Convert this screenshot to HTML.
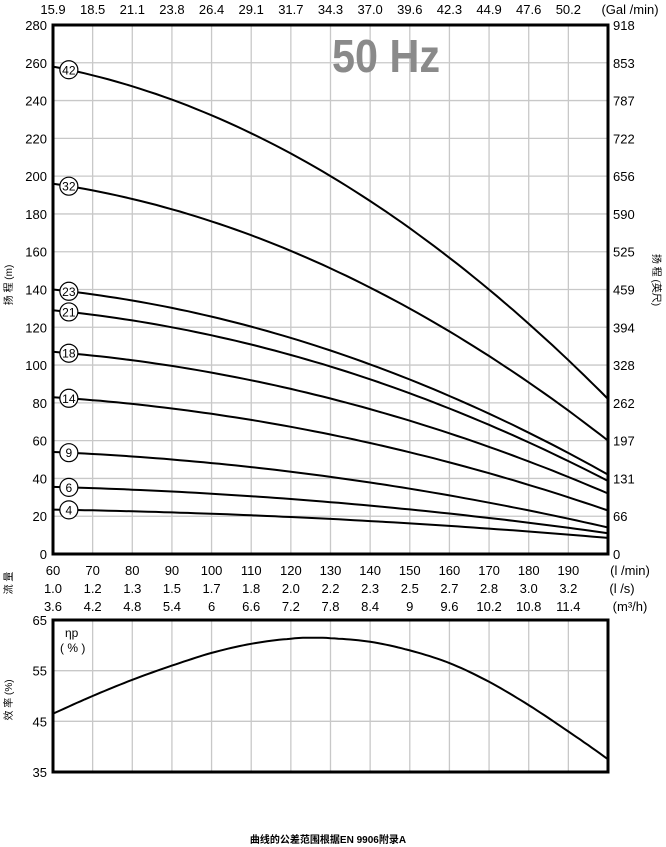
<!DOCTYPE html>
<html><head><meta charset="utf-8"><style>
body{margin:0;background:#fff;}
svg{display:block;font-family:"Liberation Sans","Noto Sans CJK SC",sans-serif;}
</style></head><body>
<svg id="s" width="666" height="847" viewBox="0 0 666 847" xmlns="http://www.w3.org/2000/svg">
<rect width="666" height="847" fill="#fff"/>
<g id="g"></g>
<text x="332" y="72" font-size="46" font-weight="bold" fill="#8a8a8a" textLength="108" lengthAdjust="spacingAndGlyphs">50 Hz</text>
<text x="328" y="843" font-size="10" font-weight="bold" text-anchor="middle">曲线的公差范围根据EN 9906附录A</text>
<text transform="translate(12,285) rotate(-90)" font-size="10" text-anchor="middle">扬 程 (m)</text>
<text transform="translate(12,583) rotate(-90)" font-size="10" text-anchor="middle">流 量</text>
<text transform="translate(12,700) rotate(-90)" font-size="10" text-anchor="middle">效 率 (%)</text>
<text transform="translate(653,280) rotate(90)" font-size="10" text-anchor="middle">扬 程 (英尺)</text>
<text x="65" y="637" font-size="12">ηp</text>
<text x="60" y="652" font-size="12">( % )</text>
</svg>
<script>
var g=document.getElementById('g'),h='';
var L=53,R=608,T=25,B=554,T2=620,B2=772;
function X(q){return L+(q-60)*(R-L)/140;}
function Y(v){return B-v*(B-T)/280;}
function Y2(v){return B2-(v-35)*(B2-T2)/30;}
for(var q=70;q<200;q+=10){h+='<line x1="'+X(q)+'" y1="'+T+'" x2="'+X(q)+'" y2="'+B+'" stroke="#c8c8c8" stroke-width="1.3"/>';
h+='<line x1="'+X(q)+'" y1="'+T2+'" x2="'+X(q)+'" y2="'+B2+'" stroke="#c8c8c8" stroke-width="1.3"/>';}
for(var v=20;v<280;v+=20)h+='<line x1="'+L+'" y1="'+Y(v)+'" x2="'+R+'" y2="'+Y(v)+'" stroke="#c8c8c8" stroke-width="1.3"/>';
[45,55].forEach(function(v){h+='<line x1="'+L+'" y1="'+Y2(v)+'" x2="'+R+'" y2="'+Y2(v)+'" stroke="#c8c8c8" stroke-width="1.3"/>';});
for(var v=0;v<=280;v+=20)h+='<text x="'+(L-6)+'" y="'+(Y(v)+5)+'" font-size="13" text-anchor="end">'+v+'</text>';
var ft=[0,66,131,197,262,328,394,459,525,590,656,722,787,853,918];
ft.forEach(function(f,i){h+='<text x="'+(R+5)+'" y="'+(Y(i*20)+5)+'" font-size="13">'+f+'</text>';});
var gal=['15.9','18.5','21.1','23.8','26.4','29.1','31.7','34.3','37.0','39.6','42.3','44.9','47.6','50.2'];
gal.forEach(function(t,i){h+='<text x="'+X(60+i*10)+'" y="14" font-size="13" text-anchor="middle">'+t+'</text>';});
h+='<text x="630" y="14" font-size="13" text-anchor="middle">(Gal /min)</text>';
var ls=['1.0','1.2','1.3','1.5','1.7','1.8','2.0','2.2','2.3','2.5','2.7','2.8','3.0','3.2'];
var m3=['3.6','4.2','4.8','5.4','6','6.6','7.2','7.8','8.4','9','9.6','10.2','10.8','11.4'];
for(var i=0;i<14;i++){var x=X(60+i*10);
h+='<text x="'+x+'" y="575" font-size="13" text-anchor="middle">'+(60+i*10)+'</text>';
h+='<text x="'+x+'" y="593" font-size="13" text-anchor="middle">'+ls[i]+'</text>';
h+='<text x="'+x+'" y="611" font-size="13" text-anchor="middle">'+m3[i]+'</text>';}
h+='<text x="630" y="575" font-size="13" text-anchor="middle">(l /min)</text>';
h+='<text x="622" y="593" font-size="13" text-anchor="middle">(l /s)</text>';
h+='<text x="630" y="611" font-size="13" text-anchor="middle">(m³/h)</text>';
[35,45,55,65].forEach(function(v){h+='<text x="'+(L-6)+'" y="'+(Y2(v)+5)+'" font-size="13" text-anchor="end">'+v+'</text>';});
var cs=[[42,258,82],[32,196,60],[23,140,42],[21,129,38.6],[18,107,32],[14,83,23],[9,54,14],[6,35.5,11],[4,23.5,8.5]];
function gf(t){return (0.4*t+0.00612*t*t)/176;}
var circ='';
cs.forEach(function(c){var p=[];for(var q=60;q<=200;q+=2){p.push(X(q).toFixed(1)+','+Y(c[1]-(c[1]-c[2])*gf(q-60)).toFixed(1));}
h+='<polyline points="'+p.join(' ')+'" fill="none" stroke="#000" stroke-width="2"/>';
var cy=Y(c[1]-(c[1]-c[2])*gf(4));
circ+='<circle cx="'+X(64)+'" cy="'+cy+'" r="9" fill="#fff" stroke="#000" stroke-width="1.2"/><text x="'+X(64)+'" y="'+(cy+4.5)+'" font-size="12" text-anchor="middle">'+c[0]+'</text>';});
h+=circ;
var e=[[50,42.8],[60,46.5],[70,50],[80,53.2],[90,56],[100,58.5],[110,60.3],[120,61.3],[125,61.5],[130,61.4],[140,60.7],[150,59],[160,56.5],[170,52.8],[180,48.2],[190,43],[200,37.5],[210,31.5]];
function ev(q){for(var i=0;i<e.length-1;i++){if(q<=e[i+1][0]){var a=e[Math.max(0,i-1)],b=e[i],c=e[i+1],d=e[Math.min(e.length-1,i+2)];var t=(q-b[0])/(c[0]-b[0]);var m1=(c[1]-a[1])/2,m2=(d[1]-b[1])/2;var t2=t*t,t3=t2*t;return (2*t3-3*t2+1)*b[1]+(t3-2*t2+t)*m1+(-2*t3+3*t2)*c[1]+(t3-t2)*m2;}}return e[e.length-1][1];}
var p=[];for(var q=60;q<=200;q+=1)p.push(X(q).toFixed(1)+','+Y2(ev(q)).toFixed(1));
h+='<polyline points="'+p.join(' ')+'" fill="none" stroke="#000" stroke-width="2"/>';
h+='<rect x="'+L+'" y="'+T+'" width="'+(R-L)+'" height="'+(B-T)+'" fill="none" stroke="#000" stroke-width="3"/>';
h+='<rect x="'+L+'" y="'+T2+'" width="'+(R-L)+'" height="'+(B2-T2)+'" fill="none" stroke="#000" stroke-width="3"/>';
g.innerHTML=h;
</script>
</body></html>
